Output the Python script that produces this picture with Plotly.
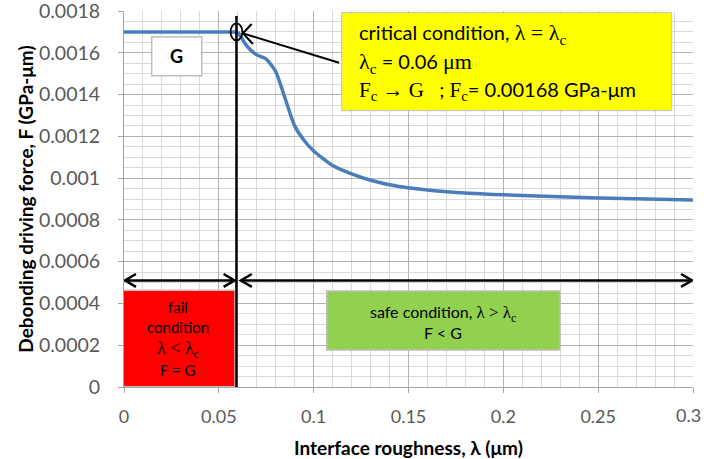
import plotly.graph_objects as go

# ---- data ----
roughness = [0, 0.02, 0.04, 0.06, 0.065, 0.07, 0.075, 0.08, 0.085, 0.09, 0.095, 0.1,
             0.11, 0.12, 0.13, 0.145, 0.17, 0.2, 0.25, 0.3]
driving_force = [0.0017, 0.0017, 0.0017, 0.0017, 0.00163, 0.00159, 0.00157, 0.00151,
                 0.00138, 0.00125, 0.00118, 0.00113, 0.00106, 0.00102, 0.00099,
                 0.00096, 0.000935, 0.00092, 0.000905, 0.000895]
x_ticks = [0, 0.05, 0.1, 0.15, 0.2, 0.25, 0.3]
x_tick_labels = ["0", "0.05", "0.1", "0.15", "0.2", "0.25", "0.3"]
y_ticks = [0, 0.0002, 0.0004, 0.0006, 0.0008, 0.001, 0.0012, 0.0014, 0.0016, 0.0018]
y_tick_labels = ["0", "0.0002", "0.0004", "0.0006", "0.0008", "0.001", "0.0012",
                 "0.0014", "0.0016", "0.0018"]
lambda_c = 0.0593
F_c = 0.0017
k = roughness.index(0.06)  # start of the curved (post-critical) part

FONT = "Lato"
SERIF = "Liberation Serif"
def serif(t, size=None):
    s = f"font-family:{SERIF}" + (f";font-size:{size}px" if size else "")
    return f'<span style="{s}">{t}</span>'

fig = go.Figure()
fig.add_trace(go.Scatter(
    x=roughness[:k + 1], y=driving_force[:k + 1], mode="lines",
    line=dict(color="#4A7EBB", width=3.5),
    hoverinfo="skip", showlegend=False))
fig.add_trace(go.Scatter(
    x=roughness[k:], y=driving_force[k:], mode="lines",
    line=dict(color="#4A7EBB", width=3.5, shape="spline", smoothing=0.6),
    hoverinfo="skip", showlegend=False))

shapes = []
# boxes
shapes.append(dict(type="rect", x0=0.1148, x1=0.2888, y0=0.001323, y1=0.001792,
                   fillcolor="#FFFF00", line=dict(color="#BFBFBF", width=1), layer="above"))
shapes.append(dict(type="rect", x0=-0.001, x1=0.0585, y0=0.0000015, y1=0.000463,
                   fillcolor="#FF0000", line=dict(color="#BFBFBF", width=1.5), layer="above"))
shapes.append(dict(type="rect", x0=0.1069, x1=0.2299, y0=0.000177, y1=0.00046,
                   fillcolor="#92D050", line=dict(color="#BFBFBF", width=1.5), layer="above"))
shapes.append(dict(type="rect", x0=0.0146, x1=0.041, y0=0.00149, y1=0.001676,
                   fillcolor="white", line=dict(color="#BFBFBF", width=1.5), layer="above"))
# vertical critical line
shapes.append(dict(type="line", x0=lambda_c, x1=lambda_c, y0=0, y1=0.001776,
                   line=dict(color="black", width=2.5), layer="above"))
# circle around critical point
shapes.append(dict(type="circle", x0=lambda_c - 0.0031, x1=lambda_c + 0.0031,
                   y0=F_c - 0.000041, y1=F_c + 0.000041,
                   line=dict(color="black", width=1.8), layer="above"))
# pointer arrow
shapes.append(dict(type="line", x0=0.0627, y0=0.001693, x1=0.1134, y1=0.001552,
                   line=dict(color="black", width=2), layer="above"))
shapes.append(dict(type="path", path="M 0.0673,0.001738 L 0.0627,0.001693 L 0.068,0.001642",
                   line=dict(color="black", width=2), layer="above"))
# double arrows
ya = 0.00051
dx, dy = 0.0058, 0.000031
shapes.append(dict(type="line", x0=0.0005, x1=0.0583, y0=ya, y1=ya,
                   line=dict(color="black", width=2.5), layer="above"))
shapes.append(dict(type="path", path=f"M {0.0005+dx},{ya+dy} L 0.0005,{ya} L {0.0005+dx},{ya-dy}",
                   line=dict(color="black", width=2.5), layer="above"))
shapes.append(dict(type="path", path=f"M {0.0583-dx},{ya+dy} L 0.0583,{ya} L {0.0583-dx},{ya-dy}",
                   line=dict(color="black", width=2.5), layer="above"))
shapes.append(dict(type="line", x0=0.0616, x1=0.2995, y0=ya, y1=ya,
                   line=dict(color="black", width=2.5), layer="above"))
shapes.append(dict(type="path", path=f"M {0.0616+dx},{ya+dy} L 0.0616,{ya} L {0.0616+dx},{ya-dy}",
                   line=dict(color="black", width=2.5), layer="above"))
shapes.append(dict(type="path", path=f"M {0.2995-dx},{ya+dy} L 0.2995,{ya} L {0.2995-dx},{ya-dy}",
                   line=dict(color="black", width=2.5), layer="above"))

ann = []
def txt(x, y, t, size, xanchor="left", bold=False):
    ann.append(dict(x=x, y=y, xref="x", yref="y", text=f"<b>{t}</b>" if bold else t,
                    showarrow=False, xanchor=xanchor, yanchor="middle", align="left",
                    font=dict(family=FONT, size=size, color="black")))

txt(0.1228, 0.001690, "critical condition, " + serif("λ = λ<sub>c</sub>", 22), 20)
txt(0.1228, 0.001552, serif("λ<sub>c</sub>", 22) + " = 0.06 " + serif("μm", 22), 20)
txt(0.1228, 0.001418, serif("F<sub>c</sub> → G", 21) + "   ; " + serif("F<sub>c</sub>", 21)
    + "= 0.00168 GPa-μm", 20)
txt(0.0278, 0.001583, "G", 18, xanchor="center", bold=True)
txt(0.0285, 0.000383, "fail", 15, xanchor="center")
txt(0.0285, 0.000286, "condition", 15, xanchor="center")
txt(0.0285, 0.000181, serif("λ &lt; λ<sub>c</sub>", 18), 15, xanchor="center")
txt(0.0285, 0.0000812, "F = G", 15, xanchor="center")
txt(0.1682, 0.000353, "safe condition, " + serif("λ &gt; λ<sub>c</sub>", 17), 16, xanchor="center")
txt(0.1682, 0.000263, "F &lt; G", 16, xanchor="center")

# last x tick label: drawn right-aligned to the page edge so it is not clipped
ann.append(dict(x=1.0175, y=-0.0745, xref="paper", yref="paper", text=x_tick_labels[-1],
                showarrow=False, xanchor="right", yanchor="middle",
                font=dict(family=FONT, size=18, color="#595959")))
shown_x_labels = x_tick_labels[:-1] + [""]

fig.update_layout(
    width=704, height=459,
    margin=dict(l=124, r=11, t=11, b=72, autoexpand=False),
    paper_bgcolor="white", plot_bgcolor="white",
    font=dict(family=FONT, size=19.5, color="#595959"),
    shapes=shapes, annotations=ann,
    xaxis=dict(range=[0, 0.3], tickvals=x_ticks, ticktext=shown_x_labels, automargin=False,
               tickfont=dict(size=18),
               showgrid=True, gridcolor="#B3B3B3", gridwidth=1,
               minor=dict(dtick=0.01, tick0=0, showgrid=True, gridcolor="#D9D9D9", gridwidth=1),
               showline=True, linecolor="#A6A6A6", linewidth=1,
               ticks="outside", ticklen=5, tickcolor="#A6A6A6",
               ticklabelstandoff=8, ticklabeloverflow="allow", zeroline=False,
               title=dict(text="<b>Interface roughness, λ (μm)</b>",
                          font=dict(size=19, color="black"), standoff=16)),
    yaxis=dict(range=[0, 0.0018], tickvals=y_ticks, ticktext=y_tick_labels, automargin=False,
               showgrid=True, gridcolor="#B3B3B3", gridwidth=1,
               minor=dict(dtick=0.00005, tick0=0, showgrid=True, gridcolor="#D9D9D9", gridwidth=1),
               showline=True, linecolor="#A6A6A6", linewidth=1,
               ticks="outside", ticklen=5, tickcolor="#A6A6A6",
               ticklabelstandoff=14, ticklabeloverflow="allow", zeroline=False,
               title=dict(text="<b>Debonding driving force, F (GPa-μm)</b>",
                          font=dict(size=19, color="black"), standoff=0)),
)
fig.write_html("out.html", config={"displayModeBar": False},
               post_script="document.body.style.margin='0';")
